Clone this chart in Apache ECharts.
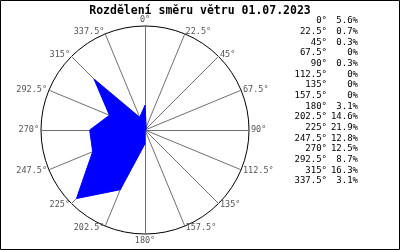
<!DOCTYPE html>
<html><head><meta charset="utf-8">
<script src="https://cdn.jsdelivr.net/npm/echarts@6/dist/echarts.min.js"></script>
<style>html,body{margin:0;padding:0;background:#fff}#c{width:400px;height:250px}</style>
</head><body><div id="c"></div>
<script>
var titleText = 'Rozdělení směru větru 01.07.2023';
var directions = ['0', '22.5', '45', '67.5', '90', '112.5', '135', '157.5', '180', '202.5', '225', '247.5', '270', '292.5', '315', '337.5'];
var values = [5.6, 0.7, 0.3, 0, 0.3, 0, 0, 0, 3.1, 14.6, 21.9, 12.8, 12.5, 8.7, 16.3, 3.1];
var axisMax = 23.5;

function fmtPct(v) { return v === 0 ? '0%' : v.toFixed(1) + '%'; }

// radar lays indicators counterclockwise; reverse (keeping 0 first) to get compass order
var order = [0];
for (var k = directions.length - 1; k >= 1; k--) order.push(k);
var indicators = order.map(function (i) { return { name: directions[i] + '°', max: axisMax, min: 0 }; });
var radarValues = order.map(function (i) { return values[i]; });

var mono = 'DejaVu Sans Mono';
var graphics = [{
  type: 'rect', shape: { x: 0.5, y: 0.5, width: 399, height: 249 },
  style: { fill: 'none', stroke: '#000', lineWidth: 1 }, silent: true
}];
directions.forEach(function (d, i) {
  var y = 21 + i * 10.67;
  graphics.push({ type: 'text', style: { text: d + '°', x: 327, y: y, align: 'right', verticalAlign: 'middle', font: '9px "' + mono + '"', fill: '#000' } });
  graphics.push({ type: 'text', style: { text: fmtPct(values[i]), x: 358, y: y, align: 'right', verticalAlign: 'middle', font: '9px "' + mono + '"', fill: '#000' } });
});

var chart = echarts.init(document.getElementById('c'), null, { renderer: 'canvas' });
chart.setOption({
  animation: false,
  backgroundColor: '#fff',
  title: {
    text: titleText, left: 'center', top: 0,
    textStyle: { fontFamily: mono, fontWeight: 'bold', fontSize: 11.5, color: '#000' }
  },
  radar: {
    center: [145, 130], radius: 104, startAngle: 90, splitNumber: 1, shape: 'circle',
    indicator: indicators,
    axisName: { color: '#555', fontFamily: mono, fontSize: 8.5 },
    nameGap: 2,
    axisLine: { lineStyle: { color: '#707070', width: 1 } },
    splitLine: { lineStyle: { color: '#000', width: 1 } },
    splitArea: { show: false },
    axisTick: { show: false }, axisLabel: { show: false }
  },
  series: [{
    type: 'radar', symbol: 'none',
    lineStyle: { color: '#0000ff', width: 1 },
    areaStyle: { color: '#0000ff', opacity: 1 },
    data: [{ value: radarValues }]
  }],
  graphic: graphics
});
</script></body></html>
